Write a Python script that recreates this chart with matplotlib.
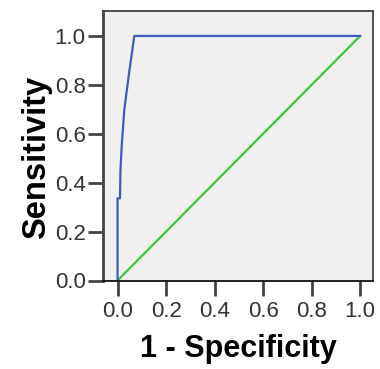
import numpy as np
import matplotlib
matplotlib.use("Agg")
import matplotlib.pyplot as plt

# ROC curve
fpr = [0.0, 0.0, 0.010, 0.012, 0.017, 0.028, 0.045, 0.069, 1.0]
tpr = [0.0, 0.336, 0.336, 0.45, 0.55, 0.70, 0.83, 1.0, 1.0]
# reference line
ref_x = [0.0, 1.0]
ref_y = [0.0, 1.0]
ticks = [0.0, 0.2, 0.4, 0.6, 0.8, 1.0]

plt.rcParams['font.family'] = ['Liberation Sans', 'DejaVu Sans']

fig = plt.figure(figsize=(3.8, 3.69), dpi=100)
ax = fig.add_axes([103 / 380, 1 - 280.5 / 369, 270 / 380, 269.5 / 369])
ax.set_facecolor('#f0f0f0')

ax.plot(ref_x, ref_y, color='#3cc43c', linewidth=1.6, solid_capstyle='round')
ax.plot(fpr, tpr, color='#3d5cbf', linewidth=1.6)

ax.set_xlim(-0.06, 1.053)
ax.set_ylim(0, 1.102)
ax.set_xticks(ticks)
ax.set_yticks(ticks)
ax.set_xticklabels(['%.1f' % t for t in ticks])
ax.set_yticklabels(['%.1f' % t for t in ticks])

for s in ax.spines.values():
    s.set_color('#444444')
    s.set_linewidth(1.3)
ax.spines['left'].set_linewidth(2.0)
ax.spines['bottom'].set_color('#111111')

ax.tick_params(axis='both', length=10.5, width=2.0, color='#444444',
               labelsize=16, labelcolor='#333333')
ax.tick_params(axis='x', pad=4)
ax.tick_params(axis='y', pad=2)

ax.set_xlabel('1 - Specificity', fontsize=22, fontweight='bold', labelpad=9)
ax.set_ylabel('Sensitivity', fontsize=23.5, fontweight='bold')
ax.yaxis.set_label_coords(-0.19, 0.455)

fig.savefig('out.png', dpi=100)
